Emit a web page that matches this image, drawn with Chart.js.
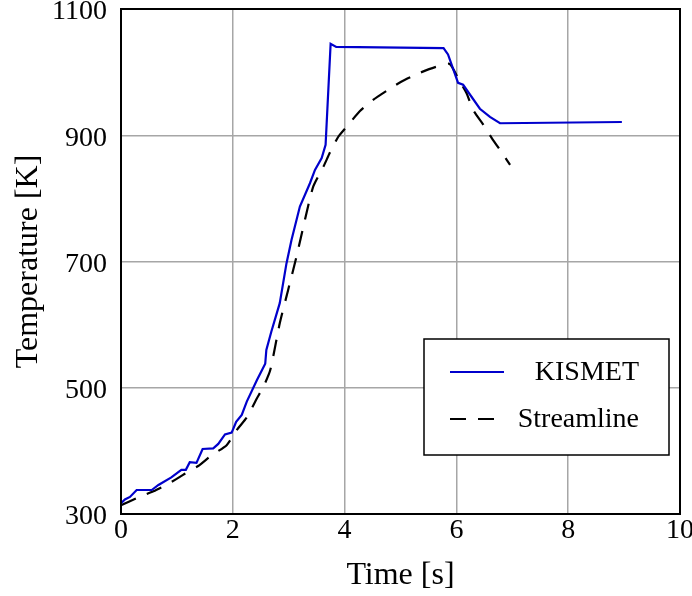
<!DOCTYPE html>
<html>
<head>
<meta charset="utf-8">
<script src="https://cdn.jsdelivr.net/npm/chart.js@4"></script>
<style>
  html, body { margin: 0; padding: 0; background: #fff; }
  #wrap { width: 692px; height: 596px; }
</style>
</head>
<body>
<div id="wrap"><canvas id="c" width="692" height="596"></canvas></div>
<script>
const kismetTime = [0, 0.07, 0.16, 0.28, 0.55, 0.67, 0.9, 1.08, 1.16, 1.23, 1.35, 1.46, 1.65, 1.74, 1.86, 1.98, 2.06, 2.16, 2.25, 2.43, 2.58, 2.6, 2.69, 2.84, 2.96, 3.05, 3.2, 3.38, 3.47, 3.59, 3.66, 3.75, 3.85, 5.77, 5.85, 6.03, 6.12, 6.42, 6.6, 6.78, 8.96];
const kismetTemp = [317, 323, 327, 338, 338, 346, 358, 370, 370, 382, 381, 403, 404, 411, 426, 429, 446, 457, 478, 512, 538, 560, 589, 634, 697, 734, 787, 824, 845, 864, 885, 1045, 1040, 1038, 1028, 983, 980, 942, 929, 919, 921];
const streamTime = [0, 0.28, 0.58, 0.85, 1.11, 1.38, 1.62, 1.89, 2.07, 2.25, 2.43, 2.55, 2.67, 2.84, 2.99, 3.14, 3.29, 3.44, 3.62, 3.74, 3.89, 4.07, 4.27, 4.51, 4.78, 5.02, 5.35, 5.62, 5.88, 6.03, 6.18, 6.3, 6.48, 6.63, 6.84, 6.96];
const streamTemp = [314, 325, 336, 348, 362, 376, 393, 409, 433, 453, 483, 502, 528, 602, 655, 708, 766, 819, 850, 873, 898, 917, 938, 956, 972, 985, 999, 1008, 1013, 990, 967, 940, 917, 896, 869, 853];
const xTicks = [0, 2, 4, 6, 8, 10];
const yTicks = [300, 500, 700, 900, 1100];
const seriesNames = ['KISMET', 'Streamline'];
const xTitle = 'Time [s]';
const yTitle = 'Temperature [K]';

const FONT = "'Liberation Serif', 'Times New Roman', serif";
const toPts = (xs, ys) => xs.map((x, i) => ({ x: x, y: ys[i] }));

const frame = {
  id: 'frame',
  afterDatasetsDraw(chart) {
    const { ctx, chartArea: a } = chart;
    ctx.save();
    ctx.strokeStyle = '#000';
    ctx.lineWidth = 2;
    ctx.strokeRect(a.left, a.top, a.right - a.left, a.bottom - a.top);
    ctx.restore();
  }
};

const boxLegend = {
  id: 'boxLegend',
  afterDraw(chart) {
    const { ctx, chartArea: a } = chart;
    const right = a.right - 11, left = right - 245;
    const bottom = a.bottom - 59, top = bottom - 116;
    ctx.save();
    ctx.fillStyle = '#fff';
    ctx.fillRect(left, top, right - left, bottom - top);
    ctx.strokeStyle = '#000';
    ctx.lineWidth = 1.5;
    ctx.strokeRect(left, top, right - left, bottom - top);
    ctx.font = "28px " + FONT;
    ctx.textAlign = 'right';
    ctx.textBaseline = 'middle';
    const rowY = [top + 33, top + 80];
    chart.data.datasets.forEach((ds, i) => {
      ctx.strokeStyle = ds.borderColor;
      ctx.lineWidth = ds.borderWidth;
      ctx.setLineDash(ds.borderDash || []);
      ctx.beginPath();
      ctx.moveTo(left + 26, rowY[i]);
      ctx.lineTo(left + 80, rowY[i]);
      ctx.stroke();
      ctx.setLineDash([]);
      ctx.fillStyle = '#000';
      ctx.fillText(ds.label, right - 30, rowY[i] + 1);
    });
    ctx.restore();
  }
};

new Chart(document.getElementById('c'), {
  type: 'line',
  data: {
    datasets: [
      {
        label: seriesNames[0],
        data: toPts(kismetTime, kismetTemp),
        borderColor: '#0000cc',
        borderWidth: 2.2,
        pointRadius: 0,
        tension: 0,
        fill: false
      },
      {
        label: seriesNames[1],
        data: toPts(streamTime, streamTemp),
        borderColor: '#000000',
        borderWidth: 2.2,
        borderDash: [16, 12],
        pointRadius: 0,
        tension: 0.2,
        fill: false
      }
    ]
  },
  options: {
    responsive: false,
    animation: false,
    devicePixelRatio: 1,
    layout: { padding: { top: 9, right: 12, left: 0, bottom: 0 } },
    plugins: { legend: { display: false }, tooltip: { enabled: false } },
    scales: {
      x: {
        type: 'linear',
        min: 0, max: 10,
        afterBuildTicks: (s) => { s.ticks = xTicks.map(v => ({ value: v })); },
        afterFit: (s) => { s.height = 82; s.paddingLeft = 0; s.paddingRight = 0; },
        grid: { color: '#a6a6a6', lineWidth: 1.5, drawTicks: false },
        border: { display: false },
        ticks: { color: '#000', font: { family: FONT, size: 28 }, padding: 0, maxRotation: 0, callback: (v) => String(v) },
        title: { display: true, text: xTitle, color: '#000', font: { family: FONT, size: 32 }, padding: { top: 1, bottom: 1 } }
      },
      y: {
        type: 'linear',
        min: 300, max: 1100,
        afterBuildTicks: (s) => { s.ticks = yTicks.map(v => ({ value: v })); },
        afterFit: (s) => { s.width = 121; s.paddingTop = 0; s.paddingBottom = 0; },
        grid: { color: '#a6a6a6', lineWidth: 1.5, drawTicks: false },
        border: { display: false },
        ticks: { color: '#000', font: { family: FONT, size: 28 }, padding: 14, labelOffset: 3, callback: (v) => String(v) },
        title: { display: true, text: yTitle, color: '#000', font: { family: FONT, size: 32 }, padding: { top: 9, bottom: 0 } }
      }
    }
  },
  plugins: [frame, boxLegend]
});
</script>
</body>
</html>
